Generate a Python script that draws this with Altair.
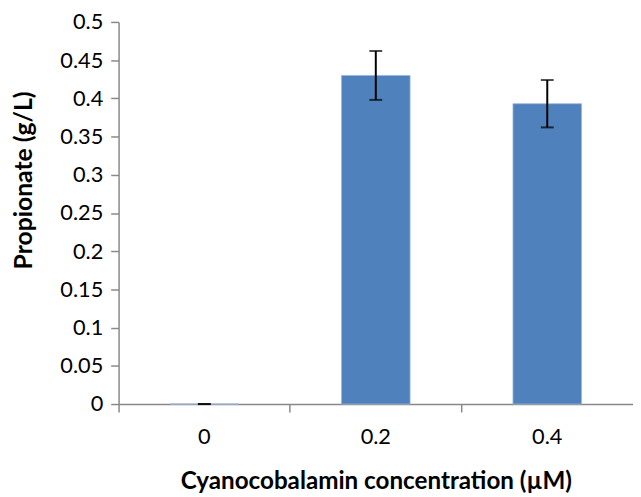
import altair as alt
import pandas as pd

categories = ["0", "0.2", "0.4"]
propionate = [0.0, 0.43, 0.393]
error = [0.0, 0.032, 0.031]
y_ticks = [0, 0.05, 0.1, 0.15, 0.2, 0.25, 0.3, 0.35, 0.4, 0.45, 0.5]

df = pd.DataFrame({
    "conc": categories,
    "value": propionate,
    "lo": [v - e for v, e in zip(propionate, error)],
    "hi": [v + e for v, e in zip(propionate, error)],
})

W = 521
H = 387
FONT = "Lato"

x_axis = alt.Axis(
    title="Cyanocobalamin concentration (µM)",
    labelAngle=0,
    bandPosition=0,
    tickSize=8,
    labelPadding=15,
    titlePadding=23,
    domainColor="#898989",
    tickColor="#898989",
    labelColor="#000000",
    labelFont=FONT,
    labelFontSize=22,
    titleFont=FONT,
    titleFontSize=24.5,
    titleFontWeight="bold",
    titleColor="#000000",
    domainWidth=1.5,
    tickWidth=1.5,
)
x_scale = alt.Scale(paddingInner=0, paddingOuter=0)

y_scale = alt.Scale(domain=[0, 0.5], nice=False)
y_axis = alt.Axis(
    title="Propionate (g/L)",
    values=y_ticks,
    format="~g",
    grid=False,
    labelOverlap=False,
    tickSize=8,
    labelPadding=8,
    titleX=-96,
    titleY=160,
    titleBaseline="middle",
    titleAngle=270,
    domainColor="#898989",
    tickColor="#898989",
    labelColor="#000000",
    labelFont=FONT,
    labelFontSize=22,
    titleFont=FONT,
    titleFontSize=25,
    titleFontWeight="bold",
    titleColor="#000000",
    domainWidth=1.5,
    tickWidth=1.5,
)


def xe():
    return alt.X("conc:N", sort=categories, scale=x_scale, axis=x_axis)


def ye(field):
    return alt.Y(field, type="quantitative", scale=y_scale, axis=y_axis)


base = alt.Chart(df)

bars = base.mark_bar(
    width={"band": 0.4}, color="#4F81BD", stroke="#9db7da", strokeWidth=0.8
).encode(x=xe(), y=ye("value"))

rules = base.mark_rule(color="#000000", strokeWidth=2).encode(
    x=xe(), y=ye("lo"), y2="hi:Q"
)

cap_lo = base.mark_tick(color="#000000", size=13, thickness=2, orient="horizontal").encode(
    x=xe(), y=ye("lo")
)
cap_hi = base.mark_tick(color="#000000", size=13, thickness=2, orient="horizontal").encode(
    x=xe(), y=ye("hi")
)

chart = (
    alt.layer(bars, rules, cap_lo, cap_hi)
    .properties(
        width=W,
        height=H,
        autosize=alt.AutoSizeParams(type="none"),
        padding={"left": 112, "top": 11, "right": 0, "bottom": 90},
        background="#ffffff",
    )
    .configure_view(stroke=None)
)

chart.save("out.html", embed_options={"renderer": "svg", "actions": False})
